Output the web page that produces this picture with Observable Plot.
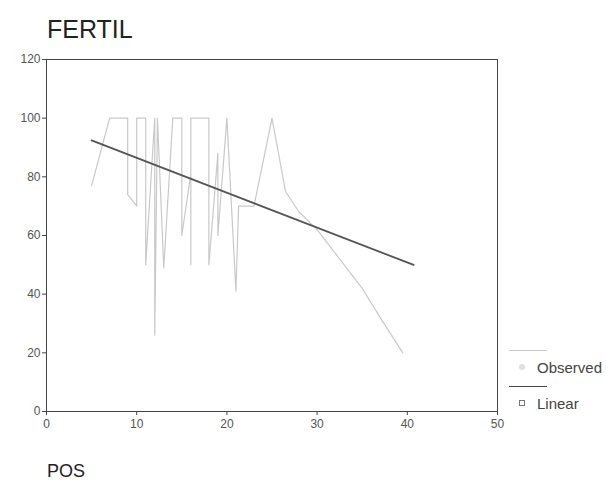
<!DOCTYPE html>
<html><head><meta charset="utf-8">
<script src="https://cdn.jsdelivr.net/npm/d3@7"></script>
<script src="https://cdn.jsdelivr.net/npm/@observablehq/plot@0.6"></script>
<style>
body{margin:0;background:#fff;font-family:"Liberation Sans",Arial,sans-serif;}
#wrap{position:relative;width:606px;height:480px;overflow:hidden;}
#title{position:absolute;left:47px;top:17px;font-size:25px;line-height:25px;color:#222;}
#xlabel{position:absolute;left:47px;top:462px;font-size:18px;line-height:18px;color:#222;}
#chart{position:absolute;left:0;top:45px;}
.legtext{position:absolute;left:537px;font-size:15px;line-height:15px;color:#444;}
.legline{position:absolute;left:509px;width:38px;height:0;}
.legmark{position:absolute;}
</style></head>
<body><div id="wrap">
<div id="title">FERTIL</div>
<div id="chart"></div>
<div id="xlabel">POS</div>
<div id="legend"></div>
</div>
<script>
// Observed series (in the order the line is drawn)
const pos    = [5, 7, 9, 9, 10, 10, 11, 11, 12, 12, 12.3, 13, 14, 15, 15, 16, 16, 16, 18, 18, 19, 19, 20, 21, 21.3, 23, 25, 26.5, 28, 30, 32, 35, 37, 39.5];
const fertil = [77, 100, 100, 74, 70, 100, 100, 50, 100, 26, 100, 49, 100, 100, 60, 81, 50, 100, 100, 50, 88, 60, 100, 41, 70, 70, 100, 75, 68, 62, 54, 42, 32, 20];
// Linear fit
const fitIntercept = 98.4;
const fitSlope = -1.19;
const fitRange = [5, 40.7];
// Axes
const xTicks = [0, 10, 20, 30, 40, 50];
const yTicks = [0, 20, 40, 60, 80, 100, 120];
const seriesNames = ["Observed", "Linear"];

const observed = pos.map((p, i) => ({pos: p, fertil: fertil[i]}));
const linear = fitRange.map(p => ({pos: p, fertil: fitIntercept + fitSlope * p}));

const chart = Plot.plot({
  width: 606,
  height: 400,
  marginLeft: 46,
  marginRight: 109,
  marginTop: 14,
  marginBottom: 34,
  style: {fontFamily: '"Liberation Sans", Arial, sans-serif', fontSize: "12px", color: "#555", background: "#fff"},
  x: {domain: [0, 50], ticks: xTicks, label: null},
  y: {domain: [0, 120], ticks: yTicks, label: null},
  marks: [
    Plot.line(observed, {x: "pos", y: "fertil", stroke: "#c9c9c9", strokeWidth: 1.2}),
    Plot.line(linear, {x: "pos", y: "fertil", stroke: "#555", strokeWidth: 1.8}),
    Plot.frame({stroke: "#444", strokeWidth: 1}),
    Plot.axisX({ticks: xTicks, tickSize: 4, tickPadding: 4, fontSize: 12, stroke: "#444"}),
    Plot.axisY({ticks: yTicks, tickSize: 4, tickPadding: 2, fontSize: 12, stroke: "#444"})
  ]
});
document.getElementById("chart").appendChild(chart);

// Legend (SPSS style: line above each label)
const legend = document.getElementById("legend");
const legendStyles = [
  {lineTop: 350, line: "1px solid #c9c9c9", textTop: 360, mark: "left:519px;top:364px;width:6px;height:6px;border-radius:3px;background:#e0e0e0;"},
  {lineTop: 386, line: "1.5px solid #444", textTop: 396, mark: "left:519px;top:400px;width:4px;height:4px;border:1px solid #777;"}
];
seriesNames.forEach((name, i) => {
  const s = legendStyles[i];
  const ln = document.createElement("div");
  ln.className = "legline";
  ln.style.top = s.lineTop + "px";
  ln.style.borderTop = s.line;
  legend.appendChild(ln);
  const mk = document.createElement("div");
  mk.className = "legmark";
  mk.style.cssText += s.mark;
  legend.appendChild(mk);
  const tx = document.createElement("div");
  tx.className = "legtext";
  tx.style.top = s.textTop + "px";
  tx.textContent = name;
  legend.appendChild(tx);
});
</script>
</body></html>
